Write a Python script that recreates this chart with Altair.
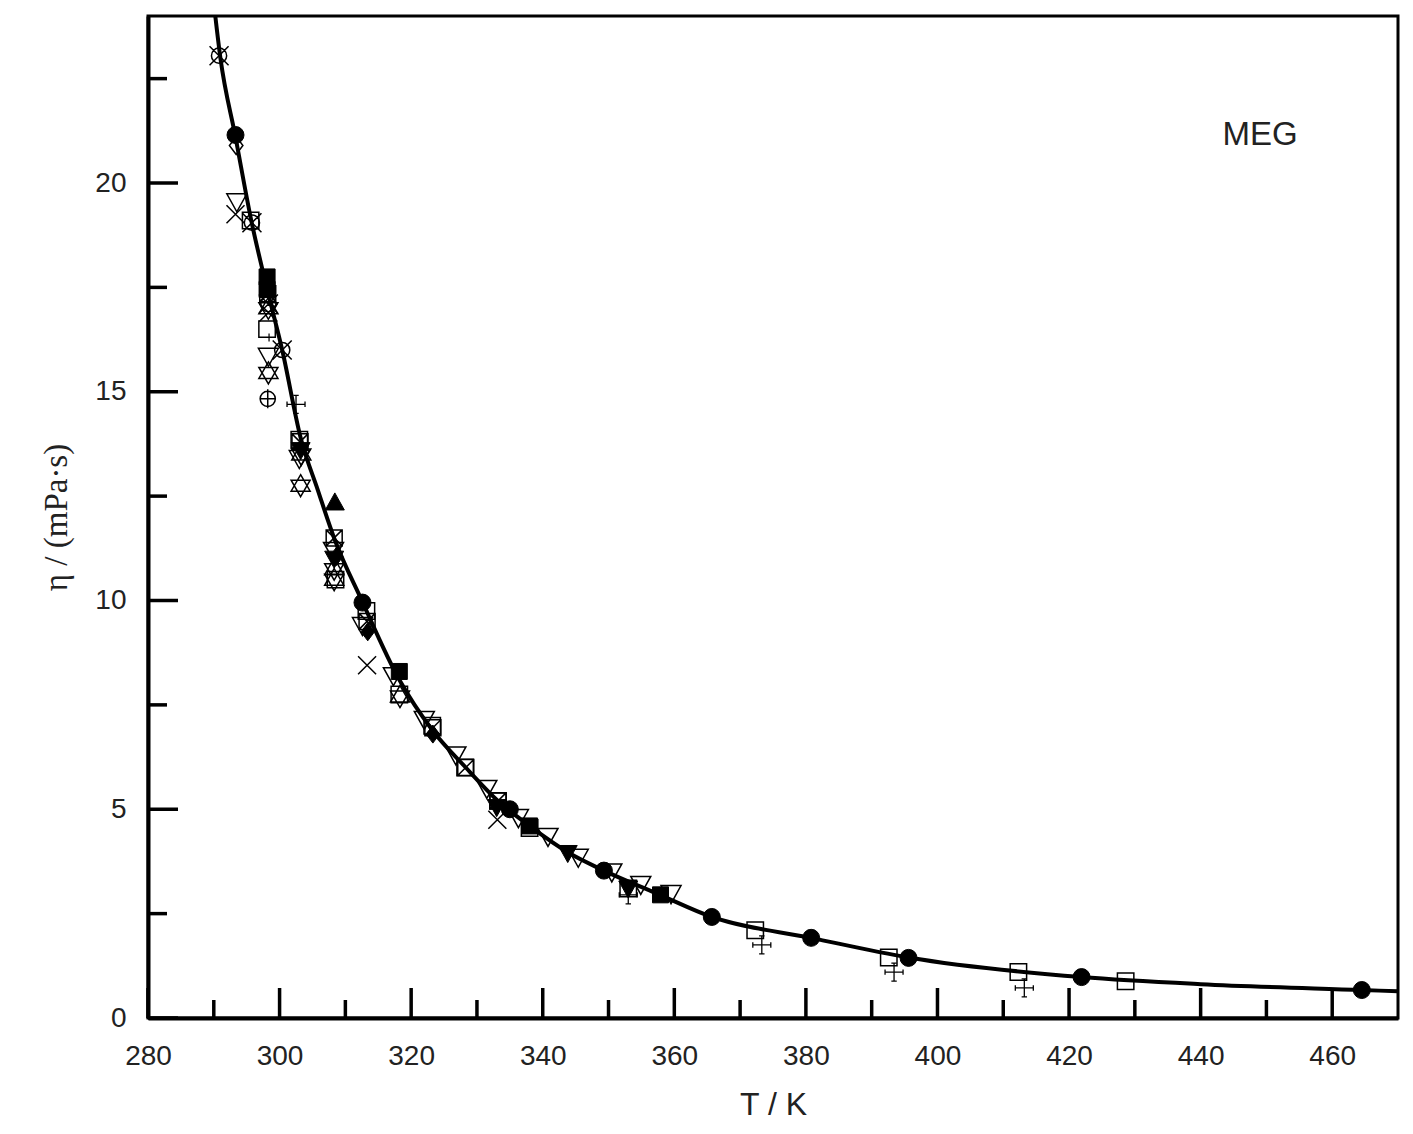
import altair as alt
import pandas as pd

# ---------------- data ----------------
curve_T = [289.8, 291.0, 293.3, 295.7, 298.2, 300.4, 303.2, 305.8, 308.4, 312.5,
           318.2, 323.2, 328.3, 333.2, 338.0, 344.0, 349.3, 357.8, 365.7, 380.8,
           395.6, 421.9, 440.0, 464.5, 470.0]
curve_eta = [24.6, 23.0, 21.1, 19.1, 17.4, 16.0, 13.9, 12.65, 11.45, 10.0,
             8.1, 6.9, 6.0, 5.2, 4.6, 3.95, 3.53, 2.95, 2.42, 1.92,
             1.45, 0.98, 0.81, 0.67, 0.64]

circle_filled_T = [293.3, 312.6, 335.0, 349.3, 365.7, 380.8, 395.6, 421.9, 464.5]
circle_filled_eta = [21.15, 9.95, 5.0, 3.53, 2.42, 1.92, 1.44, 0.98, 0.67]

square_filled_T = [298.1, 298.1, 318.2, 338.0, 357.9]
square_filled_eta = [17.75, 17.45, 8.3, 4.6, 2.95]

square_open_T = [295.6, 298.1, 303.0, 308.5, 313.2, 318.2, 323.2, 328.2, 333.2, 338.0,
                 353.0, 372.3, 392.6, 412.3, 428.6]
square_open_eta = [19.1, 16.5, 13.85, 10.5, 9.75, 7.75, 7.0, 6.0, 5.2, 4.55,
                   3.1, 2.1, 1.45, 1.1, 0.88]

tri_down_open_T = [293.5, 298.3, 303.0, 308.2, 312.6, 317.3, 322.0, 326.8, 331.5, 336.3,
                   340.8, 345.4, 350.5, 354.9, 359.5]
tri_down_open_eta = [19.55, 15.85, 13.4, 11.2, 9.4, 8.2, 7.15, 6.3, 5.5, 4.8,
                     4.35, 3.85, 3.5, 3.2, 2.98]

tri_down_filled_T = [303.2, 308.3, 333.0, 343.8, 353.0]
tri_down_filled_eta = [13.6, 11.0, 5.05, 3.95, 3.1]

tri_up_filled_T = [308.4]
tri_up_filled_eta = [12.35]

diamond_open_T = [293.4]
diamond_open_eta = [20.9]

diamond_filled_T = [313.4, 323.3, 308.6]
diamond_filled_eta = [9.25, 6.8, 11.05]

xcross_T = [293.3, 313.3, 333.1, 298.3]
xcross_eta = [19.25, 8.45, 4.75, 16.9]

circle_x_T = [290.8, 295.8, 300.4, 298.3]
circle_x_eta = [23.05, 19.05, 16.0, 17.1]

circle_plus_T = [298.2]
circle_plus_eta = [14.83]

hexagram_T = [298.3, 303.2, 308.3, 298.3, 303.3, 308.3, 318.3]
hexagram_eta = [15.45, 12.75, 10.75, 17.0, 13.5, 10.5, 7.7]

crosshair_T = [302.5, 353.0, 373.3, 393.4, 413.2]
crosshair_eta = [14.7, 2.95, 1.75, 1.1, 0.72]

box_x_T = [298.2, 303.1, 308.3, 313.3, 323.3, 328.3, 333.2]
box_x_eta = [17.35, 13.8, 11.5, 9.5, 6.95, 6.0, 5.2]

plus_small_T = [298.4]
plus_small_eta = [16.3]

x_major = [280, 300, 320, 340, 360, 380, 400, 420, 440, 460]
x_minor = [290, 310, 330, 350, 370, 390, 410, 430, 450]
y_major = [0, 5, 10, 15, 20]
y_minor = [2.5, 7.5, 12.5, 17.5, 22.5]

label_text = ["MEG"]

# ---------------- layout / style ----------------
W, H = 1250, 1002
xs = alt.Scale(domain=[280, 470], nice=False, zero=False)
ys = alt.Scale(domain=[0, 24], nice=False)

SANS = "Liberation Sans"
SERIF = "Liberation Serif"

P_TRI_DOWN = "M-1,-0.8L1,-0.8L0,1Z"
P_TRI_UP = "M-1,0.8L1,0.8L0,-1Z"
P_DIAMOND = "M0,-1L0.75,0L0,1L-0.75,0Z"
P_X = "M-1,-1L1,1M-1,1L1,-1"
P_CIRC_X = "M-0.8,0A0.8,0.8 0 1,0 0.8,0A0.8,0.8 0 1,0 -0.8,0Z M-1,-1L1,1M-1,1L1,-1"
P_CIRC_PLUS = "M-0.8,0A0.8,0.8 0 1,0 0.8,0A0.8,0.8 0 1,0 -0.8,0Z M-0.8,0L0.8,0M0,-1L0,1"
P_HEX = "M0,-1L0.866,0.5L-0.866,0.5Z M0,1L0.866,-0.5L-0.866,-0.5Z"
P_CROSSHAIR = "M-1,0L1,0M0,-1L0,1M-1,-0.3L-1,0.3M1,-0.3L1,0.3M-0.3,-1L0.3,-1M-0.3,1L0.3,1"
P_BOX_X = "M-1,-1L1,-1L1,1L-1,1Z M-1,-1L1,1M-1,1L1,-1"
P_PLUS = "M-1,0L1,0M0,-1L0,1"


def pts(T, eta, shape, filled, size, sw=1.5):
    df = pd.DataFrame({"T": T, "eta": eta})
    if filled:
        m = alt.Chart(df).mark_point(shape=shape, filled=True, size=size,
                                     color="black", opacity=1, stroke="black",
                                     strokeWidth=1)
    else:
        m = alt.Chart(df).mark_point(shape=shape, filled=False, size=size,
                                     color="black", opacity=1, strokeWidth=sw)
    return m.encode(x=alt.X("T:Q", scale=xs), y=alt.Y("eta:Q", scale=ys))


base_axes = alt.Chart(pd.DataFrame({"T": [280], "eta": [0]})).mark_point(opacity=0).encode(
    x=alt.X("T:Q", scale=xs, title="T / K",
            axis=alt.Axis(values=x_major, ticks=False, grid=False, domainWidth=4,
                          domainColor="black", labelFont=SANS, labelFontSize=28,
                          labelColor="#222", labelPadding=24, labelFlush=False,
                          labelOverlap=False, titleFont=SANS,
                          titleFontSize=32, titleFontWeight="normal",
                          titleColor="#222", titleY=86, titleBaseline="middle")),
    y=alt.Y("eta:Q", scale=ys, title="η / (mPa·s)",
            axis=alt.Axis(values=y_major, ticks=False, grid=False, domainWidth=4,
                          domainColor="black", labelFont=SANS, labelFontSize=28,
                          labelColor="#222", labelPadding=22, labelFlush=False,
                          labelOverlap=False, titleFont=SERIF,
                          titleFontSize=33, titleFontWeight="normal",
                          titleColor="#222", titleX=-92, titleBaseline="middle")),
)

xt_major = alt.Chart(pd.DataFrame({"T": x_major})).mark_rule(color="black", strokeWidth=3.5).encode(
    x=alt.X("T:Q", scale=xs), y=alt.value(H), y2=alt.value(H - 30))
xt_minor = alt.Chart(pd.DataFrame({"T": x_minor})).mark_rule(color="black", strokeWidth=3.5).encode(
    x=alt.X("T:Q", scale=xs), y=alt.value(H), y2=alt.value(H - 18))
yt_major = alt.Chart(pd.DataFrame({"eta": y_major})).mark_rule(color="black", strokeWidth=3.5).encode(
    y=alt.Y("eta:Q", scale=ys), x=alt.value(0), x2=alt.value(30))
yt_minor = alt.Chart(pd.DataFrame({"eta": y_minor})).mark_rule(color="black", strokeWidth=3.5).encode(
    y=alt.Y("eta:Q", scale=ys), x=alt.value(0), x2=alt.value(19))

curve = alt.Chart(pd.DataFrame({"T": curve_T, "eta": curve_eta})).mark_line(
    color="black", strokeWidth=4, interpolate="monotone", clip=True).encode(
    x=alt.X("T:Q", scale=xs), y=alt.Y("eta:Q", scale=ys), order="T:Q")

layers = [
    base_axes, xt_major, xt_minor, yt_major, yt_minor, curve,
    pts(tri_down_open_T, tri_down_open_eta, P_TRI_DOWN, False, 400),
    pts(square_open_T, square_open_eta, "square", False, 270),
    pts(box_x_T, box_x_eta, P_BOX_X, False, 256),
    pts(hexagram_T, hexagram_eta, P_HEX, False, 484),
    pts(circle_x_T, circle_x_eta, P_CIRC_X, False, 361),
    pts(circle_plus_T, circle_plus_eta, P_CIRC_PLUS, False, 361),
    pts(xcross_T, xcross_eta, P_X, False, 324),
    pts(crosshair_T, crosshair_eta, P_CROSSHAIR, False, 324, 1.3),
    pts(plus_small_T, plus_small_eta, P_PLUS, False, 64, 1.2),
    pts(diamond_open_T, diamond_open_eta, P_DIAMOND, False, 324),
    pts(diamond_filled_T, diamond_filled_eta, P_DIAMOND, True, 324),
    pts(tri_down_filled_T, tri_down_filled_eta, P_TRI_DOWN, True, 360),
    pts(tri_up_filled_T, tri_up_filled_eta, P_TRI_UP, True, 360),
    pts(square_filled_T, square_filled_eta, "square", True, 256),
    pts(circle_filled_T, circle_filled_eta, "circle", True, 289),
]

label = alt.Chart(pd.DataFrame({"label": label_text})).mark_text(
    font=SANS, fontSize=33, color="#222", align="center", baseline="middle").encode(
    text="label:N", x=alt.value(1112), y=alt.value(119))
layers.append(label)

chart = alt.layer(*layers).properties(
    width=W, height=H,
    padding={"left": 140, "top": 8, "right": 7, "bottom": 108},
    autosize=alt.AutoSizeParams(type="none"),
    background="white",
).configure_view(stroke="black", strokeWidth=3)

chart.save("out.html", embed_options={"renderer": "svg", "actions": False})
